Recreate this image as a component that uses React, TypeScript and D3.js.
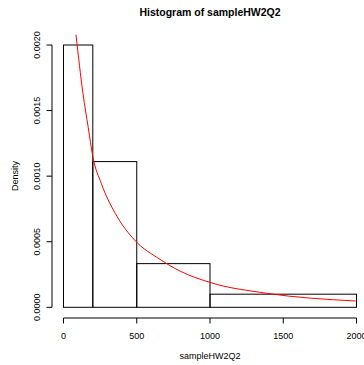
import React from 'react';
import * as d3 from 'd3';

// histogram bins (breaks) and densities
const binStarts = [0, 200, 500, 1000];
const binEnds = [200, 500, 1000, 2000];
const densities = [0.002, 0.001111, 0.000333, 0.0001];

// red density curve
const curveX = [85, 133, 169, 200, 258, 367, 485, 658, 794, 999, 1386, 1995];
const curveY = [0.00208, 0.00163, 0.00137, 0.00115, 0.000945, 0.00069, 0.000513, 0.000366, 0.000277, 0.00019, 0.000107, 0.000048];

const xTicks = [0, 500, 1000, 1500, 2000];
const yTicks = [0, 0.0005, 0.001, 0.0015, 0.002];

const W = 364;
const H = 365;
const font = '"Liberation Sans", Arial, Helvetica, sans-serif';

export default function App() {
  const x = d3.scaleLinear().domain([0, 2000]).range([63.5, 356.5]);
  const y = d3.scaleLinear().domain([0, 0.002]).range([307.3, 45]);

  const bins = binStarts.map((s, i) => ({ x0: s, x1: binEnds[i], d: densities[i] }));
  const pts = curveX.map((v, i) => [v, curveY[i]] as [number, number]);

  const line = d3.line<[number, number]>()
    .x(d => x(d[0]))
    .y(d => y(d[1]))
    .curve(d3.curveMonotoneX);

  const axisY = 318;
  const axisX = 52;

  return (
    <div style={{ position: 'fixed', left: 0, top: 0 }}>
      <svg width={W} height={H} style={{ display: 'block', background: '#fff' }} fontFamily={font}>
        <defs>
          <clipPath id="plotArea">
            <rect x={51.8} y={34.5} width={316.4} height={283.3} />
          </clipPath>
        </defs>

        <text x={210} y={16} textAnchor="middle" fontSize={10.5} fontWeight="bold">
          Histogram of sampleHW2Q2
        </text>

        {bins.map((b, i) => (
          <rect key={i}
            x={x(b.x0)} y={y(b.d)}
            width={x(b.x1) - x(b.x0)} height={y(0) - y(b.d)}
            fill="none" stroke="#000" strokeWidth={1} />
        ))}

        <path d={line(pts) || ''} fill="none" stroke="#ff0000" strokeWidth={1} clipPath="url(#plotArea)" />

        {/* x axis */}
        <line x1={x(0)} x2={x(2000)} y1={axisY} y2={axisY} stroke="#000" />
        {xTicks.map(t => (
          <g key={t}>
            <line x1={x(t)} x2={x(t)} y1={axisY} y2={axisY + 5.5} stroke="#000" />
            <text x={x(t)} y={339} textAnchor="middle" fontSize={9}>{t}</text>
          </g>
        ))}
        <text x={210} y={359} textAnchor="middle" fontSize={9}>sampleHW2Q2</text>

        {/* y axis */}
        <line x1={axisX} x2={axisX} y1={y(0)} y2={y(0.002)} stroke="#000" />
        {yTicks.map(t => (
          <g key={t}>
            <line x1={axisX - 5.5} x2={axisX} y1={y(t)} y2={y(t)} stroke="#000" />
            <text transform={`translate(40,${y(t)}) rotate(-90)`} textAnchor="middle" fontSize={9}>
              {d3.format('.4f')(t)}
            </text>
          </g>
        ))}
        <text transform="translate(17.5,176) rotate(-90)" textAnchor="middle" fontSize={9}>Density</text>
      </svg>
    </div>
  );
}
